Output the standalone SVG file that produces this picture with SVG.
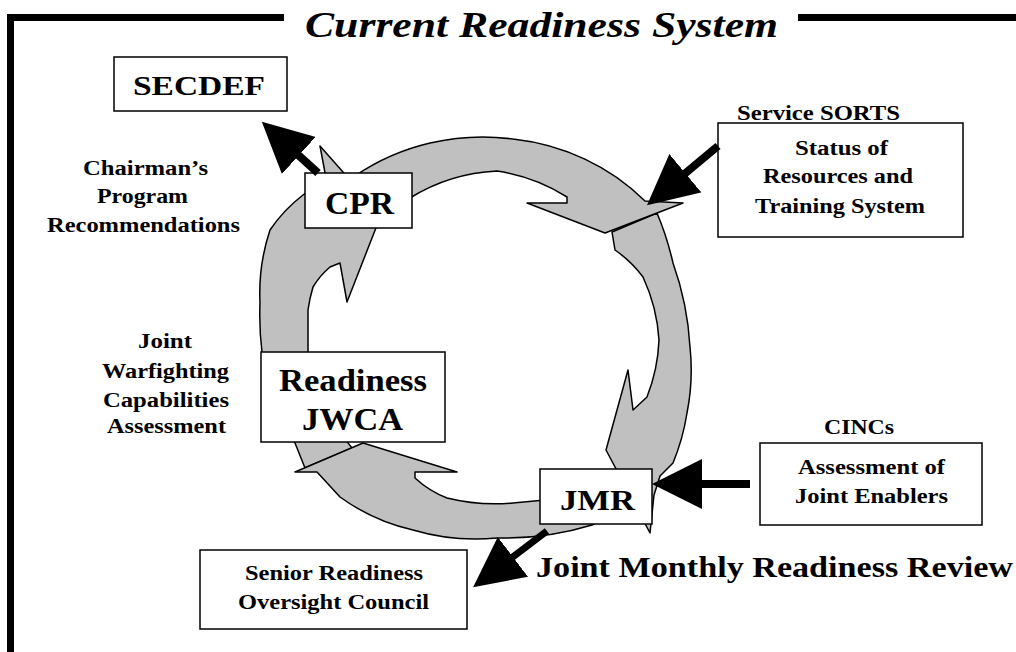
<svg xmlns="http://www.w3.org/2000/svg" width="1016" height="652" viewBox="0 0 1016 652">
<style>
.seg{fill:#c0c0c0;stroke:#000;stroke-width:1.5;stroke-linejoin:round}
.box{fill:#fff;stroke:#000;stroke-width:1.5}
.t{font-family:"Liberation Serif","Times New Roman",serif;font-weight:bold;fill:#000}
.s{font-size:20px}
.conn{stroke:#000;stroke-width:8;fill:none;marker-end:url(#ah)}
.frame{stroke:#000;stroke-width:7;fill:none;stroke-linejoin:miter}
</style>
<defs>
<marker id="ah" markerUnits="userSpaceOnUse" markerWidth="50" markerHeight="50" refX="20" refY="25" orient="auto">
<path d="M0,0 L50,25 L0,50 Z" fill="#000"/>
</marker>
</defs>
<rect width="1016" height="652" fill="#fff"/>
<g id="frame">
<path class="frame" d="M10.5,652 V17.5 H284"/>
<path class="frame" d="M798,17.5 H1016"/>
<text class="t" x="305" y="37" font-size="36" font-style="italic" font-weight="normal" textLength="473" lengthAdjust="spacingAndGlyphs">Current Readiness System</text>
</g>
<g id="cycle">
<path id="segD" class="seg" d="M305,468 L295,443 L265,400 L262,352 A300 300 0 0 1 260,303 A200 200 0 0 1 270,230 A150 150 0 0 1 303,195 L326,178 L320,146 L381,215 L347,302 L340,263 L330,267 A80 80 0 0 0 313,287 A150 150 0 0 0 308,310 L308,352 A200 200 0 0 0 352,448 Z"/>
<path id="segC" class="seg" d="M610,515 L592,525 A300 300 0 0 1 497,538 A220 220 0 0 1 413,530 A200 200 0 0 1 340,497 L317,472 L295,472 L363,443 L457,472 L415,472 L415,478 A100 100 0 0 0 447,498 A200 200 0 0 0 513,503 L545,500 L600,480 Z"/>
<path id="segB" class="seg" d="M657,213 A300 300 0 0 1 673,263 A300 300 0 0 1 690,347 A220 220 0 0 1 687,413 A220 220 0 0 1 673,463 L660,476 L654,495 L650,533 L606,450 L628,370 L633,410 L647,397 A175 175 0 0 0 659,340 A175 175 0 0 0 643,277 A120 120 0 0 0 615,250 L612,232 Z"/>
<path id="segA" class="seg" d="M355,176 A215 200 0 0 1 513,139 A215 200 0 0 1 645,201 L683,203 L605,233 L527,203 L567,203 L567,197 A175 166 0 0 0 497,171 A175 166 0 0 0 410,198 Z"/>
</g>
<g id="node-secdef">
<rect class="box" x="114" y="57" width="173" height="54"/>
<text class="t" x="133" y="95" font-size="27" textLength="132" lengthAdjust="spacingAndGlyphs">SECDEF</text>
</g>
<g id="node-cpr">
<rect class="box" x="305" y="173" width="107" height="55"/>
<text class="t" x="325" y="214" font-size="31" textLength="69" lengthAdjust="spacingAndGlyphs">CPR</text>
</g>
<g id="node-jwca">
<rect class="box" x="261" y="352" width="184" height="90"/>
<text class="t" x="279" y="391" font-size="31" textLength="148" lengthAdjust="spacingAndGlyphs">Readiness</text>
<text class="t" x="302" y="430" font-size="31" textLength="101" lengthAdjust="spacingAndGlyphs">JWCA</text>
</g>
<g id="node-jmr">
<rect class="box" x="540" y="469" width="112" height="55"/>
<text class="t" x="560" y="510" font-size="30" textLength="75" lengthAdjust="spacingAndGlyphs">JMR</text>
</g>
<g id="node-sroc">
<rect class="box" x="200" y="550" width="267" height="79"/>
<text class="t s" x="245" y="580" textLength="178" lengthAdjust="spacingAndGlyphs">Senior Readiness</text>
<text class="t s" x="238" y="609" textLength="191" lengthAdjust="spacingAndGlyphs">Oversight Council</text>
</g>
<g id="node-sorts">
<text class="t s" x="737" y="120" textLength="163" lengthAdjust="spacingAndGlyphs">Service SORTS</text>
<rect class="box" x="718" y="123" width="245" height="114"/>
<text class="t s" x="795" y="155" textLength="93" lengthAdjust="spacingAndGlyphs">Status of</text>
<text class="t s" x="763" y="183" textLength="150" lengthAdjust="spacingAndGlyphs">Resources and</text>
<text class="t s" x="755" y="213" textLength="170" lengthAdjust="spacingAndGlyphs">Training System</text>
</g>
<g id="node-cincs">
<text class="t s" x="824" y="434" textLength="70" lengthAdjust="spacingAndGlyphs">CINCs</text>
<rect class="box" x="760" y="443" width="222" height="82"/>
<text class="t s" x="798" y="474" textLength="147" lengthAdjust="spacingAndGlyphs">Assessment of</text>
<text class="t s" x="795" y="503" textLength="153" lengthAdjust="spacingAndGlyphs">Joint Enablers</text>
</g>
<g id="labels">
<text class="t" x="536" y="577" font-size="30" textLength="477" lengthAdjust="spacingAndGlyphs">Joint Monthly Readiness Review</text>
<text class="t s" x="83" y="175" textLength="125" lengthAdjust="spacingAndGlyphs">Chairman’s</text>
<text class="t s" x="97" y="203" textLength="91" lengthAdjust="spacingAndGlyphs">Program</text>
<text class="t s" x="47" y="232" textLength="193" lengthAdjust="spacingAndGlyphs">Recommendations</text>
<text class="t s" x="138" y="348" textLength="54" lengthAdjust="spacingAndGlyphs">Joint</text>
<text class="t s" x="102" y="378" textLength="127" lengthAdjust="spacingAndGlyphs">Warfighting</text>
<text class="t s" x="103" y="407" textLength="126" lengthAdjust="spacingAndGlyphs">Capabilities</text>
<text class="t s" x="107" y="433" textLength="119" lengthAdjust="spacingAndGlyphs">Assessment</text>
</g>
<g id="connectors">
<line class="conn" x1="318" y1="173" x2="284" y2="142"/>
<line class="conn" x1="718" y1="146" x2="670" y2="186"/>
<line class="conn" x1="750" y1="484" x2="682" y2="484"/>
<line class="conn" style="stroke-width:7" x1="547" y1="531" x2="497" y2="569"/>
</g>
</svg>
